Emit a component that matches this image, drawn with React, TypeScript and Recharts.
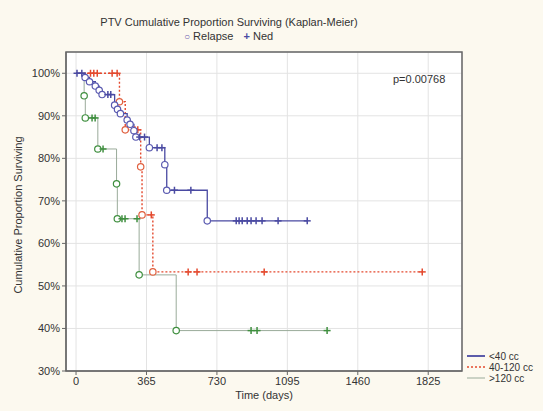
import React from 'react';
import {
  ComposedChart,
  Line,
  Scatter,
  XAxis,
  YAxis,
  CartesianGrid,
  ReferenceArea,
} from 'recharts';

const dayTicks = [0, 365, 730, 1095, 1460, 1825];
const pctTicks = [30, 40, 50, 60, 70, 80, 90, 100];

// <40 cc : relapse times [day, survival %] and censored (Ned) days
const smallEvents: [number, number][] = [
  [47, 99], [70, 98], [100, 97], [120, 96], [135, 95], [200, 92.5],
  [215, 91.5], [230, 90.5], [265, 89], [280, 88], [300, 86.5], [310, 85],
  [380, 82.5], [460, 78.5], [470, 72.5], [680, 65.3],
];
const smallCensored = [5, 30, 165, 180, 330, 355, 420, 445, 510, 595, 830, 845, 861, 887, 907, 933, 964, 1047, 1198];

// 40-120 cc
const midEvents: [number, number][] = [
  [225, 93.3], [255, 86.7], [335, 78], [342, 66.7], [398, 53.3],
];
const midCensored = [75, 92, 110, 187, 213, 305, 320, 390, 581, 627, 975, 1794];

// >120 cc
const largeEvents: [number, number][] = [
  [42, 94.7], [48, 89.5], [113, 82.2], [210, 74], [214, 65.8], [327, 52.6], [519, 39.5],
];
const largeCensored = [83, 99, 140, 238, 254, 316, 907, 938, 1301];

const survAt = (events: [number, number][], t: number) => {
  let s = 100;
  for (const [et, es] of events) if (et <= t) s = es;
  return s;
};

const stepData = (events: [number, number][], censored: number[]) => {
  const pts = [{ t: 0, s: 100 }, ...events.map(([t, s]) => ({ t, s }))];
  const end = Math.max(...censored, ...events.map((e) => e[0]));
  const last = pts[pts.length - 1];
  if (end > last.t) pts.push({ t: end, s: last.s });
  return pts;
};

const eventData = (events: [number, number][]) => events.map(([t, s]) => ({ t, s }));
const censorData = (events: [number, number][], censored: number[]) =>
  censored.map((t) => ({ t, s: survAt(events, t) }));

const ring = (color: string) => (p: any) => (
  <circle cx={p.cx} cy={p.cy} r={3.2} fill="#fff" stroke={color} strokeWidth={1.2} />
);
const plus = (color: string) => (p: any) => (
  <g stroke={color} strokeWidth={1.5}>
    <line x1={p.cx - 3.5} y1={p.cy} x2={p.cx + 3.5} y2={p.cy} />
    <line x1={p.cx} y1={p.cy - 3.5} x2={p.cx} y2={p.cy + 3.5} />
  </g>
);

const BLUE = '#4a4aa2';
const RED = '#e4492e';
const GREEN_LINE = '#9aab9a';
const GREEN = '#3f8f3f';

const font = 'Arial, "Liberation Sans", sans-serif';

const App: React.FC = () => {
  return (
    <div
      style={{
        position: 'fixed',
        left: 0,
        top: 0,
        width: 543,
        height: 411,
        background: '#fcf9ef',
        fontFamily: font,
        color: '#333',
      }}
    >
      <ComposedChart
        width={543}
        height={411}
        margin={{ top: 52, right: 81, bottom: 10, left: 0 }}
      >
        <CartesianGrid stroke="#e3e3e3" fill="#fff" />
        <XAxis
          dataKey="t"
          type="number"
          domain={[-52, 2000]}
          ticks={dayTicks}
          allowDataOverflow
          height={30}
          tickSize={4}
          tick={{ fontSize: 11, fill: '#333', fontFamily: font }}
          axisLine={{ stroke: '#666' }}
          tickLine={{ stroke: '#666' }}
        />
        <XAxis
          xAxisId="top"
          orientation="top"
          dataKey="t"
          type="number"
          domain={[-52, 2000]}
          ticks={dayTicks}
          height={0}
          tickSize={4}
          tickFormatter={() => ''}
          axisLine={false}
          tickLine={{ stroke: '#666' }}
        />
        <YAxis
          type="number"
          domain={[30, 105]}
          ticks={pctTicks}
          allowDataOverflow
          width={66}
          tickSize={4}
          tickFormatter={(v) => `${v}%`}
          tick={{ fontSize: 11, fill: '#333', fontFamily: font }}
          axisLine={{ stroke: '#666' }}
          tickLine={{ stroke: '#666' }}
        />
        <YAxis
          yAxisId="right"
          orientation="right"
          type="number"
          domain={[30, 105]}
          ticks={pctTicks}
          width={0}
          tickSize={4}
          tickFormatter={() => ''}
          axisLine={false}
          tickLine={{ stroke: '#666' }}
        />
        <ReferenceArea x1={-52} x2={2000} y1={30} y2={105} fill="none" stroke="#666" strokeWidth={1.5} />

        <Line data={stepData(largeEvents, largeCensored)} dataKey="s" type="stepAfter" stroke={GREEN_LINE} strokeWidth={1} dot={false} isAnimationActive={false} />
        <Line data={stepData(midEvents, midCensored)} dataKey="s" type="stepAfter" stroke={RED} strokeWidth={1.4} strokeDasharray="2 2" dot={false} isAnimationActive={false} />
        <Line data={stepData(smallEvents, smallCensored)} dataKey="s" type="stepAfter" stroke={BLUE} strokeWidth={1.3} dot={false} isAnimationActive={false} />

        <Scatter data={eventData(largeEvents)} dataKey="s" shape={ring(GREEN)} isAnimationActive={false} />
        <Scatter data={censorData(largeEvents, largeCensored)} dataKey="s" shape={plus(GREEN)} isAnimationActive={false} />
        <Scatter data={eventData(midEvents)} dataKey="s" shape={ring('#e0603f')} isAnimationActive={false} />
        <Scatter data={censorData(midEvents, midCensored)} dataKey="s" shape={plus(RED)} isAnimationActive={false} />
        <Scatter data={eventData(smallEvents)} dataKey="s" shape={ring('#5a5ab0')} isAnimationActive={false} />
        <Scatter data={censorData(smallEvents, smallCensored)} dataKey="s" shape={plus(BLUE)} isAnimationActive={false} />
      </ComposedChart>

      <div style={{ position: 'absolute', left: 0, width: 458, top: 16, textAlign: 'center', fontSize: 11 }}>
        PTV Cumulative Proportion Surviving (Kaplan-Meier)
      </div>
      <div style={{ position: 'absolute', left: 184, top: 30, fontSize: 11, whiteSpace: 'nowrap' }}>
        <span style={{ color: '#7060b0', fontSize: 10 }}>○</span> Relapse
        <span style={{ color: BLUE, marginLeft: 10, fontWeight: 'bold' }}>+</span> Ned
      </div>
      <div style={{ position: 'absolute', left: 393, top: 73, fontSize: 11 }}>p=0.00768</div>
      <div
        style={{
          position: 'absolute',
          left: 18,
          top: 215,
          fontSize: 11,
          whiteSpace: 'nowrap',
          transform: 'translate(-50%, -50%) rotate(-90deg)',
        }}
      >
        Cumulative Proportion Surviving
      </div>
      <div style={{ position: 'absolute', left: 264, top: 389, fontSize: 11, transform: 'translateX(-50%)', whiteSpace: 'nowrap' }}>
        Time (days)
      </div>

      <svg style={{ position: 'absolute', left: 465, top: 349 }} width={78} height={36}>
        <line x1={2} y1={7} x2={20} y2={7} stroke={BLUE} strokeWidth={1.8} />
        <line x1={2} y1={18} x2={20} y2={18} stroke={RED} strokeWidth={1.4} strokeDasharray="2 2" />
        <line x1={2} y1={29} x2={20} y2={29} stroke={GREEN_LINE} strokeWidth={1} />
        <text x={24} y={11} fontSize={10} fill="#333" fontFamily={font}>{'<40 cc'}</text>
        <text x={24} y={22} fontSize={10} fill="#333" fontFamily={font}>40-120 cc</text>
        <text x={24} y={33} fontSize={10} fill="#333" fontFamily={font}>{'>120 cc'}</text>
      </svg>
    </div>
  );
};

export default App;
